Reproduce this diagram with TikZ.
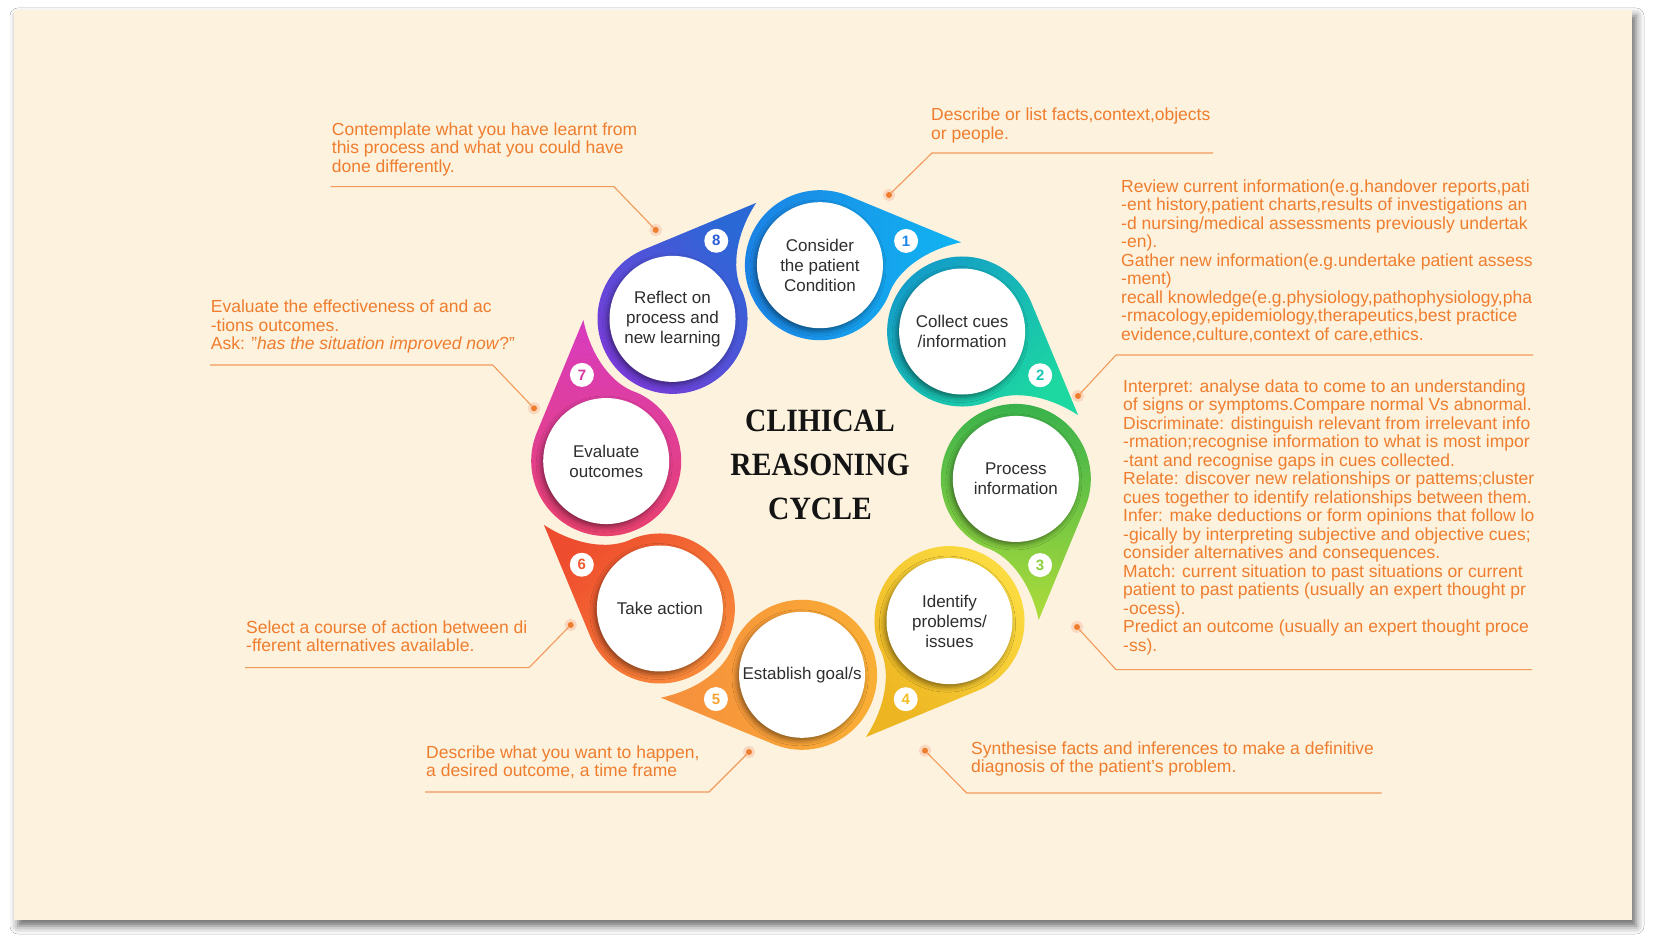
\documentclass[tikz,border=0pt]{standalone}
\usepackage{fontspec}
\setmainfont{Liberation Sans}
\newfontfamily\headfont{Liberation Serif}
\usepackage{graphicx}
\usetikzlibrary{shadows.blur}

% page and text colours
\definecolor{paper}{HTML}{FDF2DE}
\definecolor{notec}{HTML}{EF7D2E}
\definecolor{rulec}{HTML}{F29A5A}
\definecolor{ink}{HTML}{2E2E2E}
% segment colours: a = ring side, b = tip side, n = number
\definecolor{p1a}{HTML}{1C80E3}\definecolor{p1b}{HTML}{10B5F2}\definecolor{p1n}{HTML}{1A86E8}
\definecolor{p2a}{HTML}{139CC9}\definecolor{p2b}{HTML}{1DD8A0}\definecolor{p2n}{HTML}{17C7B5}
\definecolor{p3a}{HTML}{34B04C}\definecolor{p3b}{HTML}{AEDC3A}\definecolor{p3n}{HTML}{8CCF3C}
\definecolor{p4a}{HTML}{FCDD42}\definecolor{p4b}{HTML}{EDB521}\definecolor{p4n}{HTML}{F2BF24}
\definecolor{p5a}{HTML}{F9B034}\definecolor{p5b}{HTML}{F68E3D}\definecolor{p5n}{HTML}{F7A332}
\definecolor{p6a}{HTML}{F98C3A}\definecolor{p6b}{HTML}{EE4C2E}\definecolor{p6n}{HTML}{EF5A2E}
\definecolor{p7a}{HTML}{E8416A}\definecolor{p7b}{HTML}{D83CC0}\definecolor{p7n}{HTML}{D8369F}
\definecolor{p8a}{HTML}{7A3BD9}\definecolor{p8b}{HTML}{2A68D6}\definecolor{p8n}{HTML}{2B5AD6}

\tikzset{
  disc/.style={circle, fill=white, minimum size=126pt, inner sep=0pt, align=center,
    text=ink, font=\fontsize{17}{20}\selectfont,
    blur shadow={shadow xshift=-2pt, shadow yshift=-3pt, shadow blur radius=5pt, shadow opacity=45}},
  badge/.style={circle, fill=white, minimum size=24pt, inner sep=0pt,
    font=\bfseries\fontsize{15}{15}\selectfont},
  % anchored at the baseline of the last line
  notetext/.style={anchor=base west, align=left, inner sep=0pt, text=notec,
    font=\fontsize{17.5}{18.5}\selectfont},
  notedot/.style={circle, fill=notec, minimum size=6pt, inner sep=0pt,
    preaction={draw=notec!30, line width=6pt}},
  leadline/.style={draw=rulec, line width=1.1pt},
  headline/.style={anchor=base, inner sep=0pt, text=black!92,
    font=\headfont\bfseries\fontsize{32.5}{40}\selectfont},
}

\begin{document}
\begin{tikzpicture}[x=1pt,y=1pt]
\useasboundingbox (0,0) rectangle (1656,948);
\fill[white] (0,0) rectangle (1656,948);
\fill[paper, blur shadow={shadow xshift=4pt, shadow yshift=-6pt, shadow blur radius=8pt, shadow opacity=60}]
  (14,28) rectangle (1632,938);

% the eight teardrop segments around the cycle
\foreach \k/\ang in {1/87.5, 2/42.5, 3/-2.5, 4/-47.5, 5/-92.5, 6/-137.5, 7/-182.5, 8/-227.5}{
  \begin{scope}[shift={(811,478)}, rotate=\ang-90, yshift=205pt]
    \shade[top color=p\k a, bottom color=p\k b, shading angle=\ang]
      (70:75) -- (140,29) .. controls (108,21) and (77,0) .. (-22:75)
      arc[start angle=-22, end angle=-290, radius=75] -- cycle;
    \coordinate (c\k) at (0,0);
    \node[badge, text=p\k n] (b\k) at (85,28) {\k};
  \end{scope}
}

% step discs
\node[disc] (s1) at (c1) {Consider\\the patient\\Condition};
\node[disc] (s2) at (c2) {Collect cues\\/information};
\node[disc] (s3) at (c3) {Process\\information};
\node[disc] (s4) at (c4) {Identify\\problems/\\issues};
\node[disc] (s5) at (c5) {Establish goal/s};
\node[disc] (s6) at (c6) {Take action};
\node[disc] (s7) at (c7) {Evaluate\\outcomes};
\node[disc] (s8) at (c8) {Reflect on\\process and\\new learning};

% title
\node[headline] (h1) at (820,516.3) {\scalebox{0.91}[1]{CLIHICAL}};
\node[headline] (h2) at (820,472) {\scalebox{0.91}[1]{REASONING}};
\node[headline] (h3) at (820,428) {\scalebox{0.91}[1]{CYCLE}};

% annotations with leader lines
\node[notetext] (t1) at (931,808.5) {Describe or list facts,context,objects\\or people.};
\node[notedot] (d1) at (889,753) {};
\coordinate (k1) at (932,795); \coordinate (e1) at (1213,795);
\draw[leadline] (d1) -- (k1) -- (e1);

\node[notetext] (t2) at (1121,607.7) {Review current information(e.g.handover reports,pati\\
-ent history,patient charts,results of investigations an\\
-d nursing/medical assessments previously undertak\\
-en).\\
Gather new information(e.g.undertake patient assess\\
-ment)\\
recall knowledge(e.g.physiology,pathophysiology,pha\\
-rmacology,epidemiology,therapeutics,best practice\\
evidence,culture,context of care,ethics.};
\node[notedot] (d2) at (1078,552) {};
\coordinate (k2) at (1116,593); \coordinate (e2) at (1533,593);
\draw[leadline] (d2) -- (k2) -- (e2);

\node[notetext] (t3) at (1123,296.5) {Interpret: analyse data to come to an understanding\\
of signs or symptoms.Compare normal Vs abnormal.\\
Discriminate: distinguish relevant from irrelevant info\\
-rmation;recognise information to what is most impor\\
-tant and recognise gaps in cues collected.\\
Relate: discover new relationships or pattems;cluster\\
cues together to identify relationships between them.\\
Infer: make deductions or form opinions that follow lo\\
-gically by interpreting subjective and objective cues;\\
consider alternatives and consequences.\\
Match: current situation to past situations or current\\
patient to past patients (usually an expert thought pr\\
-ocess).\\
Predict an outcome (usually an expert thought proce\\
-ss).};
\node[notedot] (d3) at (1077,321) {};
\coordinate (k3) at (1116,278.4); \coordinate (e3) at (1532,278.4);
\draw[leadline] (d3) -- (k3) -- (e3);

\node[notetext] (t4) at (971,175.3) {Synthesise facts and inferences to make a definitive\\diagnosis of the patient's problem.};
\node[notedot] (d4) at (925,197.3) {};
\coordinate (k4) at (966.7,155); \coordinate (e4) at (1381.7,155);
\draw[leadline] (d4) -- (k4) -- (e4);

\node[notetext] (t5) at (426,171.3) {Describe what you want to happen,\\a desired outcome, a time frame};
\node[notedot] (d5) at (749,196) {};
\coordinate (k5) at (709,156); \coordinate (e5) at (425,156);
\draw[leadline] (d5) -- (k5) -- (e5);

\node[notetext] (t6) at (246,296.3) {Select a course of action between di\\-fferent alternatives available.};
\node[notedot] (d6) at (570.7,323) {};
\coordinate (k6) at (529,280.3); \coordinate (e6) at (245,280.3);
\draw[leadline] (d6) -- (k6) -- (e6);

\node[notetext] (t7) at (210.7,598) {Evaluate the effectiveness of and ac\\-tions outcomes.\\Ask: "\textit{has the situation improved now}?"};
\node[notedot] (d7) at (534,539.7) {};
\coordinate (k7) at (492.7,583); \coordinate (e7) at (210,583);
\draw[leadline] (d7) -- (k7) -- (e7);

\node[notetext] (t8) at (331.7,775.7) {Contemplate what you have learnt from\\this process and what you could have\\done differently.};
\node[notedot] (d8) at (655.7,718) {};
\coordinate (k8) at (614,761.3); \coordinate (e8) at (330.7,761.3);
\draw[leadline] (d8) -- (k8) -- (e8);
\end{tikzpicture}
\end{document}
